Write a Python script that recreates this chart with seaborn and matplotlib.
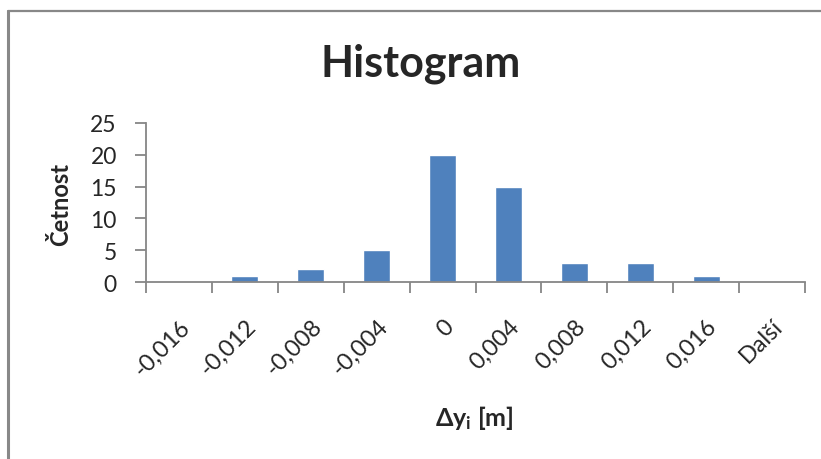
import matplotlib
matplotlib.use("Agg")
import matplotlib.pyplot as plt
from matplotlib.lines import Line2D
from matplotlib.ticker import FixedLocator, NullFormatter
import seaborn as sns

# Histogram bins (upper bounds) and their counts
bins = ["-0,016", "-0,012", "-0,008", "-0,004", "0", "0,004", "0,008", "0,012", "0,016", "Další"]
counts = [0, 1, 2, 5, 20, 15, 3, 3, 1, 0]
y_ticks = [0, 5, 10, 15, 20, 25]

sns.set_style("white")
plt.rcParams["font.family"] = ["Lato", "DejaVu Sans"]
plt.rcParams["mathtext.fontset"] = "custom"
plt.rcParams["mathtext.rm"] = "Lato"
plt.rcParams["mathtext.bf"] = "Lato:bold"

fig = plt.figure(figsize=(8.21, 4.60), dpi=100)
ax = fig.add_axes([146 / 821, 1 - 283 / 460, (805 - 146) / 821, (283 - 124) / 460])

sns.barplot(x=bins, y=counts, color="#4F81BD", saturation=1, width=0.41, ax=ax)

axis_grey = "#868686"
ax.set_xlim(-0.5, len(bins) - 0.5)
ax.set_ylim(0, 25)
ax.set_yticks(y_ticks)
ax.set_yticklabels([str(v) for v in y_ticks], fontsize=16.5)

# labels centred under each bar, tick marks on bin boundaries
ax.set_xticks(range(len(bins)))
ax.set_xticklabels(bins, fontsize=17, rotation=45, ha="right", va="top",
                   rotation_mode="anchor")
ax.tick_params(axis="x", which="major", length=0, pad=24)
ax.xaxis.set_minor_locator(FixedLocator([i - 0.5 for i in range(len(bins) + 1)]))
ax.xaxis.set_minor_formatter(NullFormatter())
ax.tick_params(axis="x", which="minor", length=8, width=1.3, color=axis_grey, bottom=True)
ax.tick_params(axis="y", length=8, width=1.3, color=axis_grey, left=True, pad=13)

for side in ["top", "right"]:
    ax.spines[side].set_visible(False)
for side in ["left", "bottom"]:
    ax.spines[side].set_color(axis_grey)
    ax.spines[side].set_linewidth(1.3)

ax.set_xlabel("")
ax.set_ylabel("")
fig.text(61 / 821, 1 - 205 / 460, "Četnost", rotation=90, ha="center", va="center",
         fontsize=17, fontweight="bold")
fig.text(474 / 821, 1 - 418 / 460, r"$\mathbf{\Delta y_{i}}$ $\mathbf{[m]}$", ha="center",
         va="center", fontsize=18, fontweight="bold")
fig.text(421 / 821, 1 - 64 / 460, "Histogram", ha="center", va="center",
         fontsize=31, fontweight="bold")

# chart frame
fig.add_artist(Line2D([7.5 / 821, 7.5 / 821], [0, 1 - 12 / 460], color="#888888", lw=2.2))
fig.add_artist(Line2D([7.5 / 821, 1], [1 - 12 / 460, 1 - 12 / 460], color="#888888", lw=1.6))

fig.savefig("out.png", dpi=100)
